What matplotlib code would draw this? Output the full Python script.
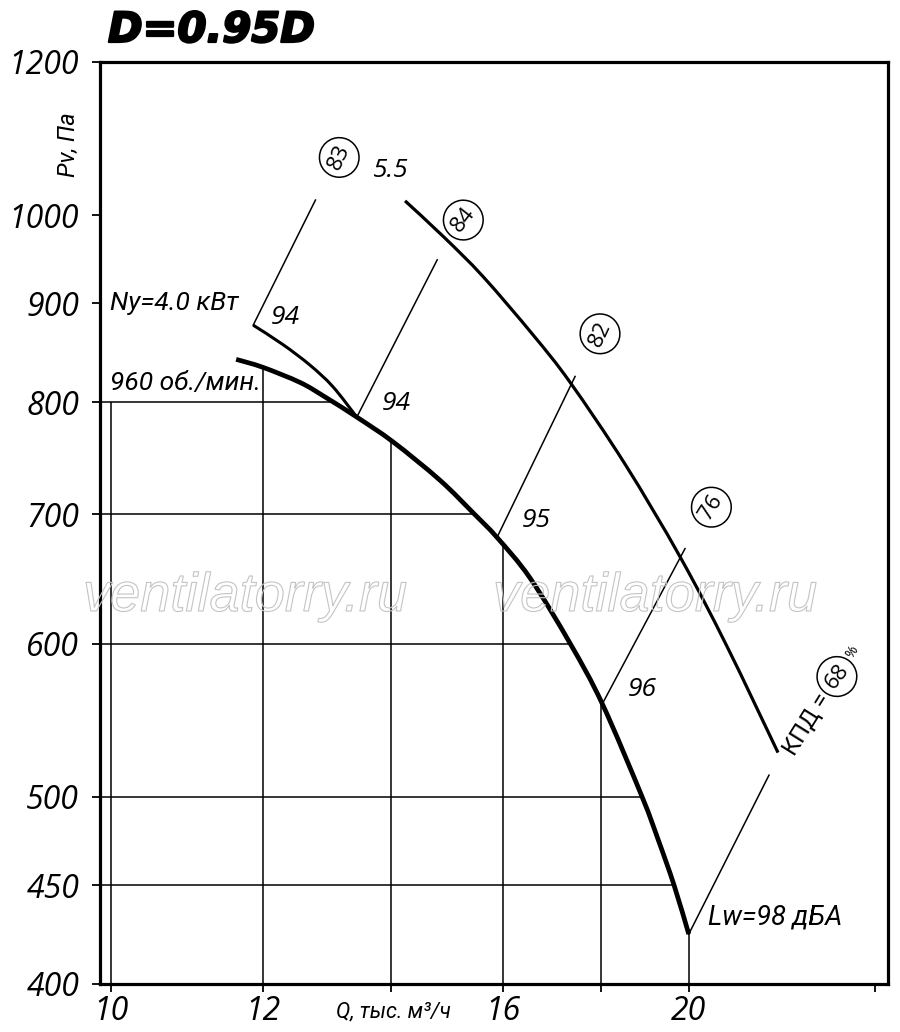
import numpy as np
import matplotlib
matplotlib.use('Agg')
import matplotlib.pyplot as plt
from matplotlib import patheffects
from matplotlib.path import Path
from matplotlib.patches import PathPatch
from matplotlib.ticker import FixedLocator, FixedFormatter, NullLocator

# ---------------- data ----------------
# main P-Q curve, 960 rpm
q_main = [11.62, 12.00, 12.55, 12.93, 13.43, 14.03, 14.84, 15.46, 15.89, 16.53,
          17.35, 18.03, 18.91, 19.28, 19.65, 20.00]
p_main = [842, 834, 819, 805, 786, 763, 729, 700.4, 681, 649,
          600, 558.5, 500, 475, 450, 424.5]

# short upper branch (Ny = 4.0 kW)
q_branch = [11.86, 12.29, 12.70, 13.05, 13.43]
p_branch = [877, 857, 836, 815, 786]

# upper curve (5.5 kW)
q_upper = [14.23, 14.91, 15.63, 16.59, 17.35, 18.53, 19.80, 20.94, 22.26]
p_upper = [1017, 974, 929, 867, 819, 743, 665, 598, 527]

# slanted lines: (q_start, p_start) -> (q_end, p_end)
slant_q0 = [11.86, 13.43, 15.89, 18.03, 20.00]
slant_p0 = [877, 786, 681, 558.5, 424.5]
slant_q1 = [12.78, 14.79, 17.45, 19.91, 22.02]
slant_p1 = [1018, 948, 825, 672, 513]

# noise labels
noise_labels = ['94', '94', '95', '96']
noise_q = [12.32, 14.08, 16.65, 18.91]
noise_p = [885, 799, 695, 568]

# efficiency circles
eff_labels = ['83', '84', '82', '76', '68']
eff_q = [13.15, 15.26, 17.98, 20.55, 23.89]
eff_p = [1071, 994, 868, 706, 577]
eff_rot = [65, 52, 65, 58, 52]

# grid
grid_q = [10, 12, 14, 16, 18, 20]
grid_p = [450, 500, 600, 700, 800]

x_ticks = [10, 12, 14, 16, 18, 20, 25]
x_ticklabels = ['10', '12', '', '16', '', '20', '']
y_ticks = [400, 450, 500, 600, 700, 800, 900, 1000, 1200]
y_ticklabels = ['400', '450', '500', '600', '700', '800', '900', '1000', '1200']

FONT = ['Open Sans', 'DejaVu Sans']
CYR = ['Roboto', 'DejaVu Sans']

XMIN, XMAX = 9.869, 25.40


def smooth_path(qs, ps):
    """Catmull-Rom curve through the points, drawn as cubic Bezier in log space."""
    P = np.column_stack([np.log10(qs), np.log10(ps)])
    n = len(P)
    verts = [P[0]]
    codes = [Path.MOVETO]
    for i in range(n - 1):
        p0 = P[i - 1] if i > 0 else P[i]
        p1, p2 = P[i], P[i + 1]
        p3 = P[i + 2] if i + 2 < n else P[i + 1]
        verts += [p1 + (p2 - p0) / 6.0, p2 - (p3 - p1) / 6.0, p2]
        codes += [Path.CURVE4] * 3
    return Path(10 ** np.array(verts), codes)


fig = plt.figure(figsize=(9, 10.32), dpi=100)
ax = fig.add_axes([100 / 900, 48 / 1032, 788 / 900, 922 / 1032])
ax.set_xscale('log')
ax.set_yscale('log')
ax.set_xlim(XMIN, XMAX)
ax.set_ylim(400, 1200)

ax.xaxis.set_major_locator(FixedLocator(x_ticks))
ax.xaxis.set_major_formatter(FixedFormatter(x_ticklabels))
ax.xaxis.set_minor_locator(NullLocator())
ax.yaxis.set_major_locator(FixedLocator(y_ticks))
ax.yaxis.set_major_formatter(FixedFormatter(y_ticklabels))
ax.yaxis.set_minor_locator(NullLocator())
ax.tick_params(axis='both', direction='out', length=6, width=1.3, colors='black')
ax.tick_params(axis='y', pad=9)
ax.tick_params(axis='x', pad=2)
for lab in ax.get_xticklabels() + ax.get_yticklabels():
    lab.set_family(FONT)
    lab.set_style('italic')
    lab.set_fontsize(23)
for s in ax.spines.values():
    s.set_linewidth(2.3)

# grid lines limited by the main curve
lq = np.log10(q_main)
lp = np.log10(p_main)
for g in grid_q:
    if g < q_main[0]:
        top = 800
    else:
        top = 10 ** np.interp(np.log10(g), lq, lp)
    ax.plot([g, g], [400, top], color='black', lw=1.1, solid_capstyle='butt')
for g in grid_p:
    right = 10 ** np.interp(np.log10(g), lp[::-1], lq[::-1])
    ax.plot([XMIN, right], [g, g], color='black', lw=1.1, solid_capstyle='butt')

# curves
ax.add_patch(PathPatch(smooth_path(q_main, p_main), fill=False, ec='black',
                       lw=3.4, capstyle='butt', joinstyle='round'))
ax.add_patch(PathPatch(smooth_path(q_branch, p_branch), fill=False, ec='black',
                       lw=2.2, capstyle='butt'))
ax.add_patch(PathPatch(smooth_path(q_upper, p_upper), fill=False, ec='black',
                       lw=2.3, capstyle='butt'))
for a, b, c, d in zip(slant_q0, slant_p0, slant_q1, slant_p1):
    ax.plot([a, c], [b, d], color='black', lw=1.1)

# texts
txt = dict(family=FONT, style='italic', color='black')
ctxt = dict(family=CYR, style='italic', color='black')
for l, q, p in zip(noise_labels, noise_q, noise_p):
    ax.text(q, p, l, fontsize=19, ha='center', va='center', **txt)
ax.text(13.98, 1055, '5.5', fontsize=19, ha='center', va='center', **txt)
ax.text(9.99, 901, 'Ny=4.0 кВт', fontsize=19, ha='left', va='center', **ctxt)
ax.text(9.99, 819, '960 об./мин.', fontsize=19, ha='left', va='center', **ctxt)
ax.text(20.47, 433, 'Lw=98 дБА', fontsize=19.5, ha='left', va='center', **ctxt)

for l, q, p, r in zip(eff_labels, eff_q, eff_p, eff_rot):
    ax.text(q, p, l, fontsize=16, ha='center', va='center', rotation=r,
            rotation_mode='anchor', family=FONT, color='black',
            bbox=dict(boxstyle='circle,pad=0.32', fc='none', ec='black', lw=1.1))
ax.text(23.06, 545, 'КПД =', fontsize=17, ha='center', va='center', rotation=58,
        rotation_mode='anchor', family=CYR, color='black')
ax.text(24.35, 594, '%', fontsize=10, ha='center', va='center', rotation=58,
        rotation_mode='anchor', family=FONT, color='black')

# axis labels & title
fig.text(68 / 900, 1 - 145 / 1032, 'Pv, Па', fontsize=17, rotation=90,
         ha='center', va='center', **ctxt)
fig.text(393 / 900, 1 - 1012 / 1032, 'Q, тыс. м³/ч', fontsize=15.5,
         ha='center', va='center', **ctxt)
fig.text(108 / 900, 1 - 30 / 1032, 'D=0.95D', fontsize=30, fontweight='bold',
         style='italic', family='DejaVu Sans', ha='left', va='center',
         path_effects=[patheffects.withStroke(linewidth=1.6, foreground='black')])

# watermark (outline only)
for cx in (245, 655):
    fig.text(cx / 900, 1 - 597 / 1032, 'ventilatorry.ru', fontsize=39,
             family=['Liberation Sans', 'DejaVu Sans'], style='italic',
             ha='center', va='center', color=(1, 1, 1, 0),
             path_effects=[patheffects.Stroke(linewidth=0.8, foreground='#c4c4c4')])

fig.savefig('out.png', dpi=100)
